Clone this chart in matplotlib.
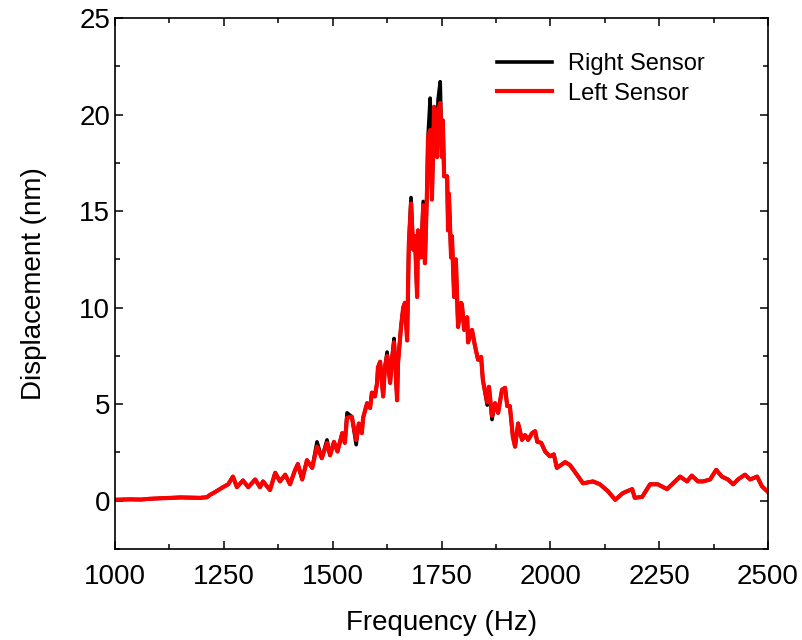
"""Displacement spectrum of the right and left sensors."""

import matplotlib

matplotlib.use("Agg")
import matplotlib.pyplot as plt
from matplotlib.ticker import MultipleLocator

plt.rcParams["font.family"] = ["Liberation Sans", "DejaVu Sans"]

# values
freq_hz = [
    1000, 1034, 1060, 1080, 1100, 1126, 1150, 1172, 1195, 1211,
    1218, 1230, 1248, 1260, 1271, 1280, 1294, 1306, 1322, 1333,
    1340, 1356, 1368, 1379, 1391, 1402, 1413, 1420, 1430, 1441,
    1453, 1464, 1475, 1487, 1494, 1503, 1511, 1522, 1528, 1533,
    1544, 1554, 1560, 1567, 1570, 1579, 1586, 1590, 1597, 1602,
    1604, 1609, 1616, 1620, 1625, 1632, 1636, 1641, 1648, 1650,
    1657, 1662, 1666, 1671, 1675, 1680, 1685, 1689, 1694, 1696,
    1703, 1708, 1712, 1717, 1719, 1724, 1728, 1733, 1740, 1742,
    1747, 1751, 1753, 1756, 1763, 1765, 1767, 1772, 1774, 1779,
    1783, 1788, 1795, 1797, 1802, 1806, 1809, 1811, 1820, 1827,
    1834, 1841, 1845, 1855, 1859, 1866, 1873, 1880, 1889, 1896,
    1901, 1907, 1914, 1919, 1926, 1935, 1942, 1949, 1958, 1965,
    1970, 1979, 1988, 1999, 2008, 2015, 2034, 2045, 2061, 2075,
    2098, 2114, 2132, 2149, 2167, 2188, 2194, 2211, 2229, 2247,
    2268, 2282, 2298, 2314, 2325, 2339, 2351, 2367, 2381, 2394,
    2408, 2420, 2431, 2447, 2459, 2475, 2486, 2500,
]

left_nm = [
    0.05, 0.07, 0.06, 0.10, 0.12, 0.15, 0.17, 0.16, 0.15, 0.18,
    0.30, 0.45, 0.70, 0.85, 1.25, 0.70, 1.05, 0.70, 1.10, 0.70,
    1.00, 0.55, 1.45, 1.00, 1.35, 0.85, 1.55, 1.90, 1.10, 2.10,
    1.70, 2.80, 2.20, 3.00, 2.35, 3.05, 2.55, 3.50, 3.00, 4.30,
    4.35, 3.15, 4.00, 3.50, 4.30, 5.05, 4.80, 5.60, 5.40, 6.10,
    6.90, 7.20, 5.40, 6.90, 7.50, 6.10, 7.30, 8.20, 5.20, 7.10,
    9.00, 10.00, 10.25, 8.30, 13.35, 15.40, 13.00, 13.70, 10.55, 14.00,
    12.60, 15.30, 12.30, 16.30, 18.85, 19.20, 15.60, 20.40, 17.80, 20.20,
    20.60, 17.80, 19.70, 16.80, 16.80, 14.00, 15.90, 12.60, 13.70, 10.55,
    12.50, 9.00, 10.25, 10.15, 8.85, 9.40, 9.50, 8.20, 8.85, 8.00,
    7.30, 7.45, 6.25, 5.10, 5.90, 4.40, 5.05, 4.55, 5.75, 5.85,
    4.90, 4.90, 3.30, 2.80, 4.00, 3.15, 3.40, 3.15, 3.50, 3.60,
    3.05, 3.00, 2.55, 2.30, 2.40, 1.70, 2.00, 1.85, 1.35, 0.90,
    1.00, 0.85, 0.50, 0.05, 0.40, 0.60, 0.15, 0.20, 0.85, 0.85,
    0.60, 0.90, 1.25, 1.00, 1.30, 1.00, 1.00, 1.10, 1.60, 1.25,
    1.10, 0.85, 1.10, 1.35, 1.10, 1.25, 0.75, 0.45,
]

right_nm = [
    0.05, 0.07, 0.06, 0.10, 0.12, 0.15, 0.17, 0.16, 0.15, 0.18,
    0.30, 0.45, 0.70, 0.85, 1.25, 0.70, 1.05, 0.70, 1.10, 0.70,
    1.00, 0.55, 1.45, 1.00, 1.35, 0.85, 1.55, 1.90, 1.10, 2.10,
    1.70, 3.05, 2.20, 3.15, 2.35, 3.05, 2.55, 3.50, 3.00, 4.55,
    4.35, 2.90, 4.00, 3.50, 4.30, 5.05, 4.80, 5.60, 5.40, 6.10,
    6.90, 7.20, 5.40, 6.90, 7.70, 6.10, 7.30, 8.40, 5.20, 7.10,
    9.00, 10.00, 10.25, 8.30, 13.35, 15.70, 13.00, 13.70, 10.55, 14.00,
    12.60, 15.50, 12.30, 16.30, 18.85, 20.85, 15.60, 20.40, 17.80, 20.75,
    21.70, 17.80, 19.70, 16.80, 16.80, 14.00, 15.90, 12.60, 13.70, 10.55,
    12.50, 9.00, 10.25, 10.15, 8.85, 9.40, 9.50, 8.20, 8.85, 8.00,
    7.30, 7.45, 6.25, 4.95, 5.90, 4.20, 5.05, 4.55, 5.75, 5.85,
    4.90, 4.90, 3.30, 2.80, 4.00, 3.15, 3.40, 3.15, 3.50, 3.60,
    3.05, 3.00, 2.55, 2.30, 2.40, 1.70, 2.00, 1.85, 1.35, 0.90,
    1.00, 0.85, 0.50, 0.05, 0.40, 0.60, 0.15, 0.20, 0.85, 0.85,
    0.60, 0.90, 1.25, 1.00, 1.30, 1.00, 1.00, 1.10, 1.60, 1.25,
    1.10, 0.85, 1.10, 1.35, 1.10, 1.25, 0.75, 0.45,
]

fig = plt.figure(figsize=(8.02, 6.40), dpi=100)
ax = fig.add_axes([0.1434, 0.1422, 0.8142, 0.8297])

ax.plot(freq_hz, right_nm, color="black", linewidth=2.6, label="Right Sensor")
ax.plot(freq_hz, left_nm, color="red", linewidth=3.0, label="Left Sensor")

ax.set_xlim(1000, 2500)
ax.set_ylim(-2.5, 25)
ax.xaxis.set_major_locator(MultipleLocator(250))
ax.xaxis.set_minor_locator(MultipleLocator(125))
ax.yaxis.set_major_locator(MultipleLocator(5))
ax.yaxis.set_minor_locator(MultipleLocator(2.5))
ax.tick_params(which="both", direction="in", top=True, right=True, width=1.1, labelsize=20)
ax.tick_params(which="major", length=6)
ax.tick_params(which="minor", length=3.5)
ax.tick_params(axis="x", pad=11)
for spine in ax.spines.values():
    spine.set_linewidth(1.2)

ax.set_xlabel("Frequency (Hz)", fontsize=20, labelpad=14)
ax.set_ylabel("Displacement (nm)", fontsize=20, labelpad=23)

ax.legend(loc="upper right", bbox_to_anchor=(0.918, 0.951), frameon=False, fontsize=17,
          handlelength=2.3, handletextpad=0.7, labelspacing=0.3, borderaxespad=0)

fig.savefig("out.png", dpi=100)
